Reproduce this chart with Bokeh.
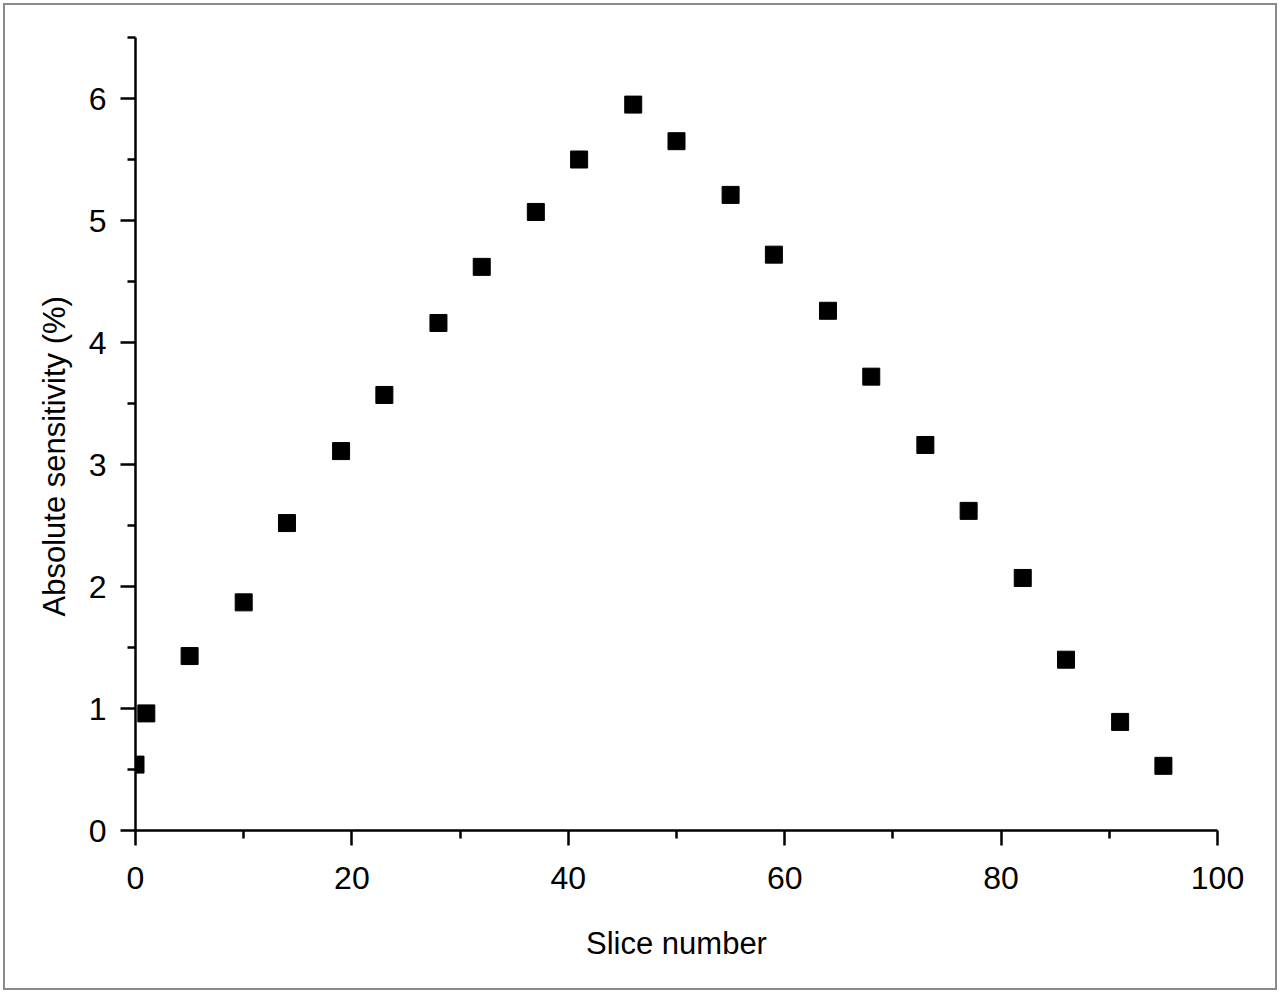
from bokeh.plotting import figure
from bokeh.models import Range1d, FixedTicker, Title
from bokeh.embed import file_html
from bokeh.resources import INLINE

# Data
slice_number = [0, 1, 5, 10, 14, 19, 23, 28, 32, 37, 41, 46, 50, 55, 59, 64, 68, 73, 77, 82, 86, 91, 95]
sensitivity = [0.54, 0.96, 1.43, 1.87, 2.52, 3.11, 3.57, 4.16, 4.62, 5.07, 5.50, 5.95,
               5.65, 5.21, 4.72, 4.26, 3.72, 3.16, 2.62, 2.07, 1.40, 0.89, 0.53]

x_major = [0, 20, 40, 60, 80, 100]
x_minor = [10, 30, 50, 70, 90]
y_major = [0, 1, 2, 3, 4, 5, 6]
y_minor = [0.5, 1.5, 2.5, 3.5, 4.5, 5.5, 6.5]

x_title = "Slice number"
y_title = "Absolute sensitivity (%)"

FONT = "Liberation Sans"

p = figure(width=1280, height=993, output_backend="svg", toolbar_location=None,
           x_range=Range1d(0, 100), y_range=Range1d(0, 6.5),
           min_border_left=135, min_border_right=63, min_border_top=37, min_border_bottom=163)
p.outline_line_color = None
p.grid.visible = False
p.background_fill_color = "white"
p.border_fill_color = None
p.styles = {"box-shadow": "inset 0 0 0 3px white, inset 0 0 0 5px #8a8a8a",
            "background-color": "white"}

p.scatter(slice_number, sensitivity, marker="square", size=17,
          fill_color="black", line_color="black")

for ax, major, minor in ((p.xaxis[0], x_major, x_minor), (p.yaxis[0], y_major, y_minor)):
    ax.ticker = FixedTicker(ticks=major, minor_ticks=minor)
    ax.axis_line_width = 2.5
    ax.axis_line_color = "black"
    ax.major_tick_line_width = 2.5
    ax.minor_tick_line_width = 2.5
    ax.major_tick_out = 15
    ax.major_tick_in = 0
    ax.minor_tick_out = 8
    ax.minor_tick_in = 0
    ax.major_label_text_font = FONT
    ax.major_label_text_font_size = "32px"
    ax.major_label_text_color = "black"
    ax.axis_label_text_font = FONT
    ax.axis_label_text_font_size = "31px"
    ax.axis_label_text_font_style = "normal"
    ax.axis_label_text_color = "black"

p.xaxis.axis_label = x_title
p.xaxis.major_label_standoff = 21
p.xaxis.axis_label_standoff = 34
p.yaxis.major_label_standoff = 14

# y-axis title as a side title, placed slightly below the frame centre
ytitle = Title(text=y_title, align="left", offset=214, standoff=27,
               text_font=FONT, text_font_size="31px", text_font_style="normal",
               text_color="black")
p.add_layout(ytitle, "left")

open("out.html", "w").write(file_html(p, INLINE))
